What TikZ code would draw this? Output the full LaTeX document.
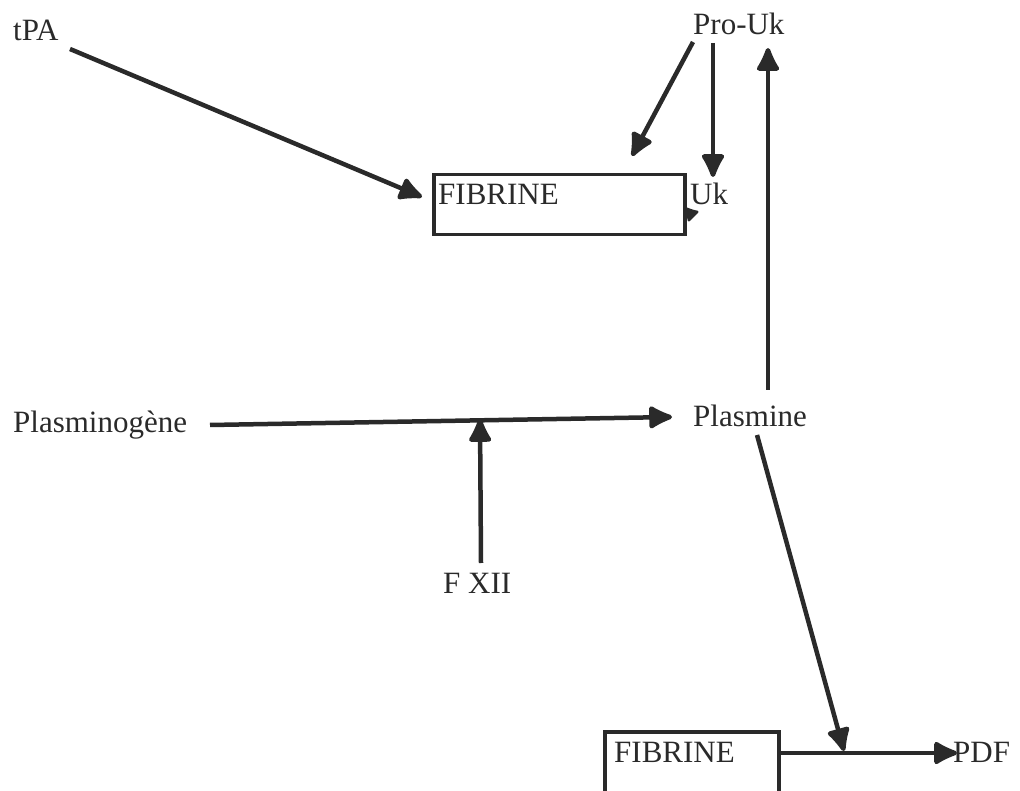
\documentclass[tikz,border=0pt]{standalone}
\usepackage{fontspec}
\setmainfont{Liberation Serif}
\usetikzlibrary{arrows.meta}
\definecolor{ink}{HTML}{2A2A2A}
\begin{document}
\begin{tikzpicture}[x=1pt,y=-1pt,
  lbl/.style={anchor=base west,inner sep=0pt,text=ink,font=\fontsize{31}{31}\selectfont},
  boxnode/.style={draw=ink,line width=3.5pt,anchor=north west,inner sep=0pt},
  tipshape/.tip={Latex[length=20pt,width=19pt,round,fill=ink,scale=1.4]},
  conn/.style={color=ink,line width=4.5pt,-tipshape}]
\useasboundingbox (0,0) rectangle (1020,791);

% labels
\node[lbl] (tpa) at (13,41) {tPA};
\node[lbl] (prouk) at (693,35) {Pro-Uk};
\node[lbl] (uk) at (690,205) {Uk};
\node[lbl] (plg) at (13,432) {Plasminogène};
\node[lbl] (plm) at (693,427) {Plasmine};
\node[lbl] (fxii) at (443,593) {F XII};
\node[lbl] (pdf) at (953,762) {PDF};

% fibrin boxes
\node[boxnode,minimum width=251pt,minimum height=60pt] (fib1) at (432,173) {};
\node[lbl] (fib1txt) at (438,205) {FIBRINE};
\node[boxnode,minimum width=174pt,minimum height=62pt] (fib2) at (603,730) {};
\node[lbl] (fib2txt) at (614,762) {FIBRINE};

% connector end points
\coordinate (tpa-out) at (70,49);
\coordinate (fib1-in) at (422,197);
\coordinate (prouk-a) at (693,42);
\coordinate (fib1-top) at (632,156);
\coordinate (prouk-b) at (713,43);
\coordinate (uk-top) at (713,177);
\coordinate (plm-up) at (768,390);
\coordinate (prouk-in) at (768,48);
\coordinate (plg-out) at (210,425);
\coordinate (plm-in) at (672,417);
\coordinate (fxii-out) at (481,563);
\coordinate (junction) at (480,419);
\coordinate (plm-down) at (757,435);
\coordinate (fib2-line) at (844,751);
\coordinate (fib2-out) at (777,753);
\coordinate (pdf-in) at (957,753);

% connectors
\draw[conn] (tpa-out) -- (fib1-in);
\draw[conn] (prouk-a) -- (fib1-top);
\draw[conn] (prouk-b) -- (uk-top);
\draw[conn] (plm-up) -- (prouk-in);
\draw[conn] (plg-out) -- (plm-in);
\draw[conn] (fxii-out) -- (junction);
\draw[conn] (plm-down) -- (fib2-line);
\draw[conn] (fib2-out) -- (pdf-in);
\draw[color=ink,line width=2.5pt,-{Latex[length=12pt,width=12pt,round,fill=ink,scale=1.4]}]
  ([xshift=2pt,yshift=-10pt]uk.base west) -- ([xshift=-6pt,yshift=-2pt]uk.base west);
\end{tikzpicture}
\end{document}
